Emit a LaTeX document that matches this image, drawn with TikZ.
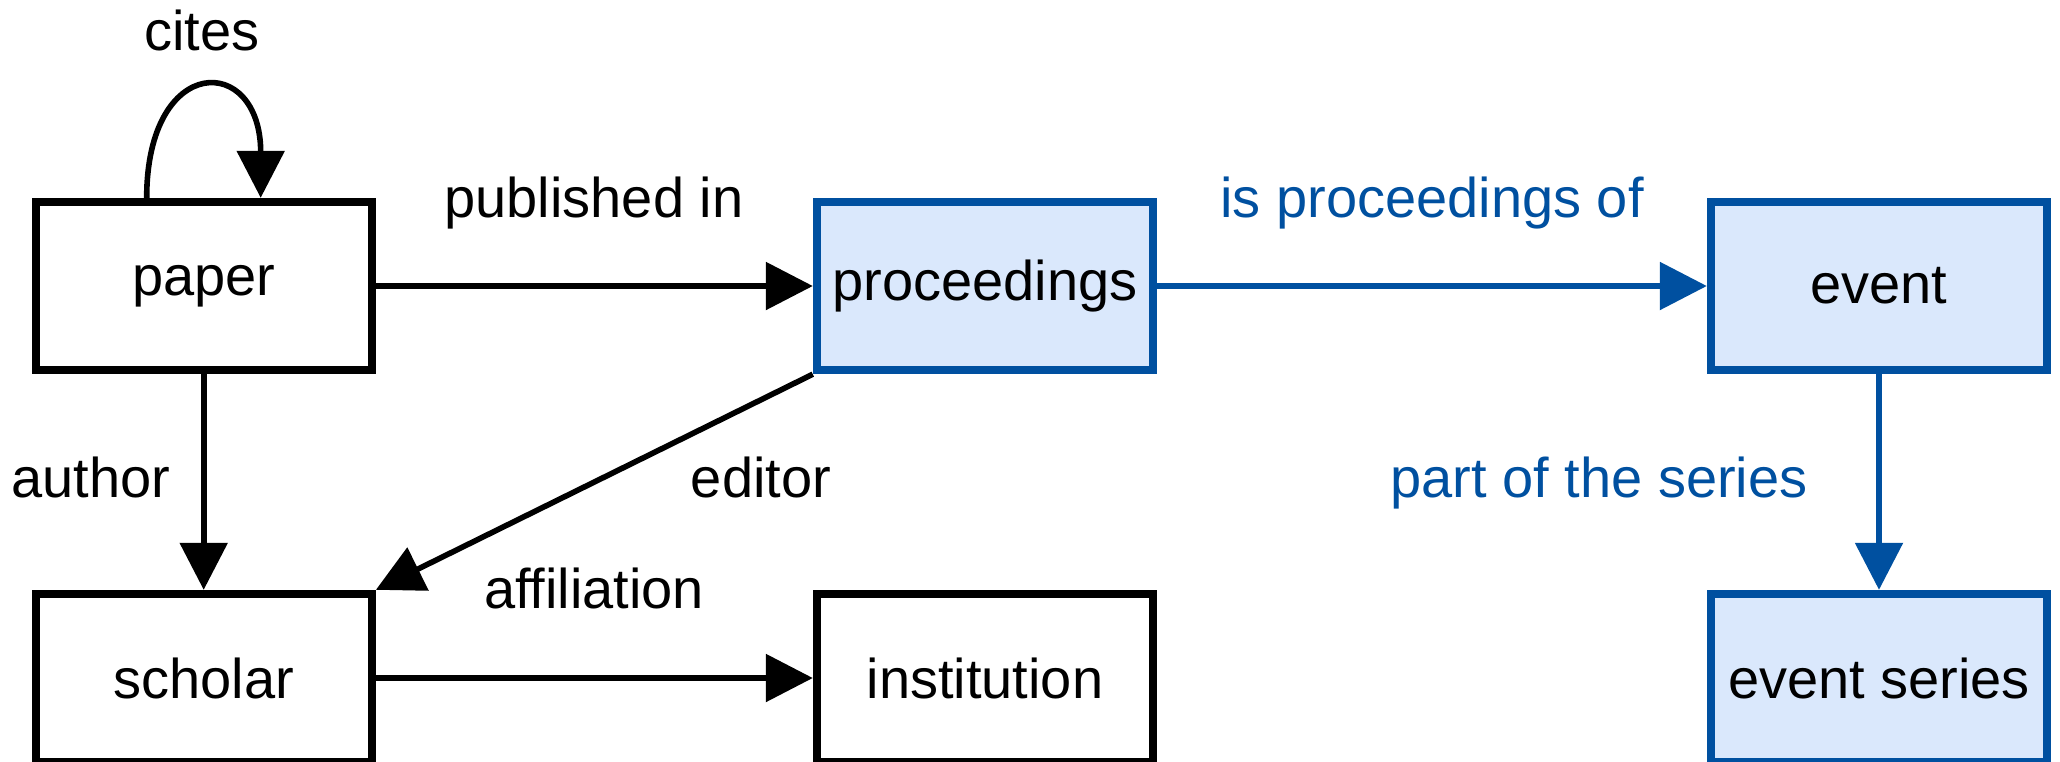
\documentclass[tikz,border=0pt]{standalone}
\usepackage{fontspec}
\setmainfont{Liberation Sans}
\usetikzlibrary{arrows.meta}
\definecolor{blueline}{HTML}{0050A0}
\definecolor{bluefill}{HTML}{DAE8FC}
\begin{document}
\begin{tikzpicture}[x=1pt,y=1pt,
  every node/.style={font=\fontsize{56}{67}\selectfont},
  box/.style={draw=black, line width=8.4pt, minimum width=336pt, minimum height=168pt, inner sep=0pt, fill=white},
  bluebox/.style={box, draw=blueline, fill=bluefill},
  edge/.style={line width=5.6pt, -{Triangle[length=47pt,width=47pt]}},
  blueedge/.style={edge, draw=blueline, fill=blueline},
  lbl/.style={anchor=base, inner sep=0pt},
  bluelbl/.style={lbl, text=blueline},
]
\useasboundingbox (0,0) rectangle (2060,-761);
% nodes
\node[box] (paper) at (203.7,-286) {paper};
\node[bluebox] (proc) at (985,-286) {proceedings};
\node[bluebox] (event) at (1879,-286) {event};
\node[box] (scholar) at (203.7,-678) {scholar};
\node[box] (inst) at (985,-678) {institution};
\node[bluebox] (series) at (1879,-678) {event series};
% self loop
\coordinate (c1) at ([xshift=-57pt]paper.north);
\coordinate (c2) at ([xshift=57pt]paper.north);
\draw[edge] (c1) .. controls ([yshift=145pt]c1) and ([yshift=145pt]c2) .. (c2);
% edges
\draw[edge] (paper) -- (proc);
\draw[edge] (paper) -- (scholar);
\draw[edge] (proc.south west) -- (scholar.north east);
\draw[edge] (scholar) -- (inst);
\draw[blueedge] (proc) -- (event);
\draw[blueedge] (event) -- (series);
% labels
\node[lbl] (lcites) at (202,-50) {cites};
\node[lbl] (lpub) at (594,-217) {published in};
\node[bluelbl] (lisproc) at (1432,-217) {is proceedings of};
\node[lbl] (lauthor) at (91,-497) {author};
\node[lbl] (leditor) at (761,-497) {editor};
\node[lbl] (laff) at (594,-608) {affiliation};
\node[bluelbl] (lpart) at (1599,-497) {part of the series};
\end{tikzpicture}
\end{document}
